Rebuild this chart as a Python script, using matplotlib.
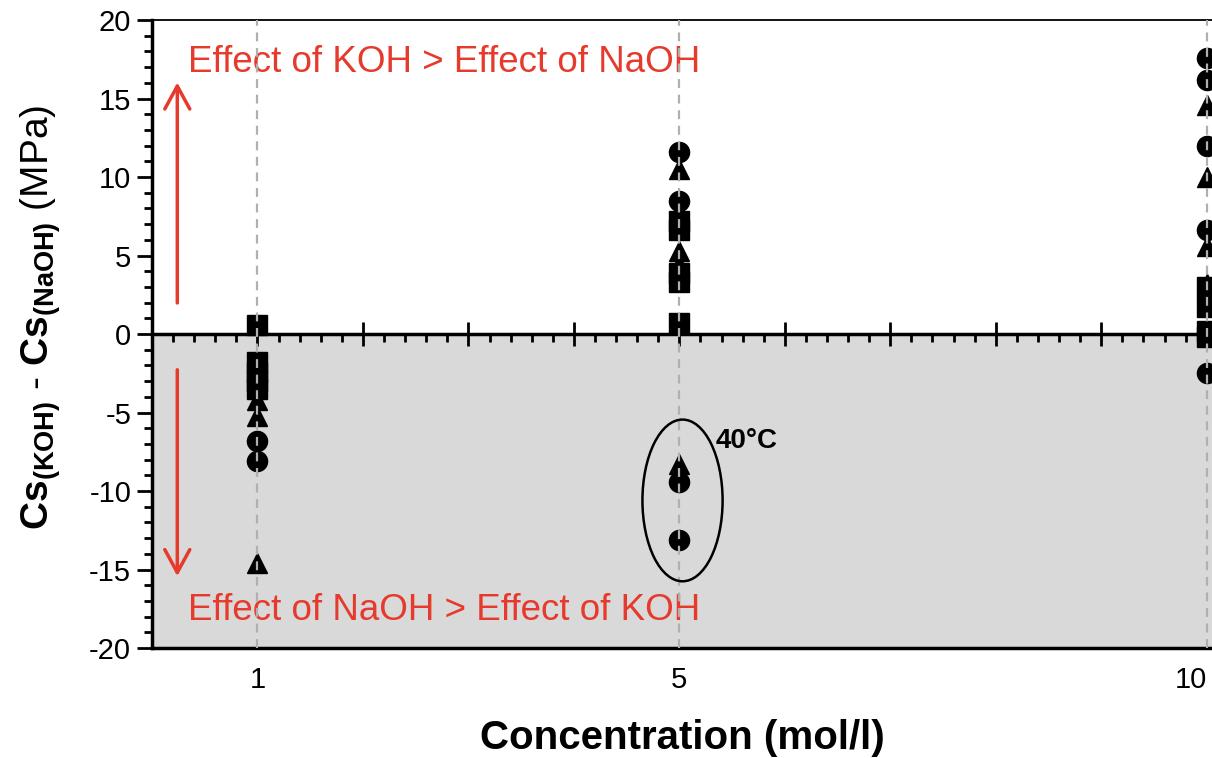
import numpy as np
import matplotlib
matplotlib.use('Agg')
import matplotlib.pyplot as plt
from matplotlib.patches import Ellipse
from matplotlib.ticker import MultipleLocator

plt.rcParams['font.family'] = ['Liberation Sans', 'DejaVu Sans']
plt.rcParams['mathtext.fontset'] = 'custom'
plt.rcParams['mathtext.rm'] = 'Liberation Sans'
plt.rcParams['mathtext.bf'] = 'Liberation Sans:bold'
plt.rcParams['axes.unicode_minus'] = False

# concentrations on the x axis (mol/l)
concentrations = [1, 5, 10]

# Cs(KOH) - Cs(NaOH) in MPa, grouped by marker shape
circles_c1 = [-6.8, -8.1]
triangles_c1 = [-4.2, -5.2, -14.6]
squares_c1 = [0.6, -1.8, -2.4, -3.0, -3.5]

circles_c5 = [11.6, 8.5, -9.4, -13.1]
triangles_c5 = [10.5, 5.3, 4.4, -8.3]
squares_c5 = [7.2, 6.6, 3.9, 3.3, 0.7]

circles_c10 = [17.6, 16.2, 12.0, 6.6, -2.5]
triangles_c10 = [14.6, 10.0, 5.6, 3.2]
squares_c10 = [3.0, 1.7, 0.2, -0.2]

circles = [circles_c1, circles_c5, circles_c10]
triangles = [triangles_c1, triangles_c5, triangles_c10]
squares = [squares_c1, squares_c5, squares_c10]

red = '#e53a2c'

fig = plt.figure(figsize=(12.12, 7.58), dpi=100)
ax = fig.add_axes([0.1254, 0.1451, 0.8746, 0.8285])

ax.axhspan(-20, 0, color='#d9d9d9', zorder=0)

for c, vals in zip(concentrations, squares):
    ax.plot([c] * len(vals), vals, 's', color='black', ms=15, zorder=3)
for c, vals in zip(concentrations, triangles):
    ax.plot([c] * len(vals), vals, '^', color='black', ms=15, zorder=3)
for c, vals in zip(concentrations, circles):
    ax.plot([c] * len(vals), vals, 'o', color='black', ms=14.5, zorder=3)

for c in concentrations:
    ax.axvline(c, color='#b0b0b0', lw=1.6, ls=(0, (4, 3)), zorder=4)

ax.set_xlim(0, 10.05)
ax.set_ylim(-20, 20)

ax.set_xticks(concentrations)
ax.set_xticklabels([str(c) for c in concentrations])
ax.get_xticklabels()[-1].set_horizontalalignment('right')
ax.tick_params(axis='x', length=0, labelsize=21, pad=13)
ax.yaxis.set_major_locator(MultipleLocator(5))
ax.yaxis.set_minor_locator(MultipleLocator(1))
ax.tick_params(axis='y', which='major', direction='out', length=11, width=2, labelsize=21, pad=4)
ax.tick_params(axis='y', which='minor', direction='out', length=6, width=2)

for s in ['left', 'bottom']:
    ax.spines[s].set_linewidth(2.5)
ax.spines['top'].set_linewidth(1.3)
ax.spines['right'].set_visible(False)

# zero line with its own ticks
zero = ax.secondary_xaxis(0.5)
zero.spines['top'].set_linewidth(2.5)
zero.spines['bottom'].set_linewidth(2.5)
zero.xaxis.set_major_locator(MultipleLocator(1))
zero.xaxis.set_minor_locator(MultipleLocator(0.2))
zero.tick_params(which='major', direction='inout', length=17, width=2, labeltop=False, labelbottom=False)
zero.tick_params(which='minor', direction='in', length=6, width=2)

# arrows and region labels
arrow_style = '->, head_length=0.55, head_width=0.3'
ax.annotate('', xy=(0.24, 16.2), xytext=(0.24, 1.8),
            arrowprops=dict(arrowstyle=arrow_style, color=red, lw=2.5, mutation_scale=30))
ax.annotate('', xy=(0.24, -15.6), xytext=(0.24, -2.1),
            arrowprops=dict(arrowstyle=arrow_style, color=red, lw=2.5, mutation_scale=30))
ax.text(0.34, 17.3, 'Effect of KOH > Effect of NaOH', color=red, fontsize=26.5, va='center')
ax.text(0.34, -17.6, 'Effect of NaOH > Effect of KOH', color=red, fontsize=26.5, va='center')

# 40 C group
ax.add_patch(Ellipse((5.03, -10.6), 0.76, 10.3, fill=False, ec='black', lw=1.8, zorder=5))
ax.text(5.34, -6.8, '40°C', fontsize=20, fontweight='bold', va='center')

ax.set_xlabel('Concentration (mol/l)', fontsize=29, fontweight='bold', labelpad=18)
ax.set_ylabel(r'$\mathbf{Cs_{(KOH)}}$ - $\mathbf{Cs_{(NaOH)}}$ (MPa)', fontsize=28)
ax.yaxis.set_label_coords(-0.084, 0.527)

fig.savefig('out.png', dpi=100)
